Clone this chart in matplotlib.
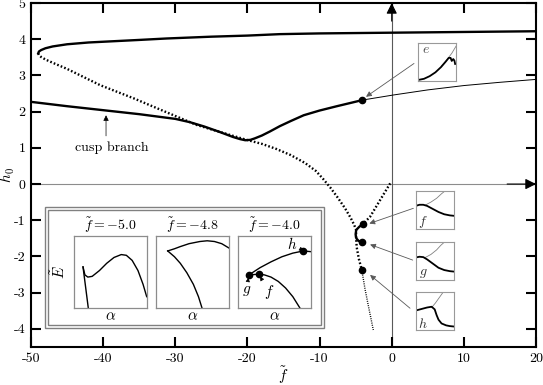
import numpy as np
import matplotlib
matplotlib.use('Agg')
import matplotlib.pyplot as plt
from matplotlib.patches import Rectangle

plt.rcParams['font.family'] = 'cmr10'
plt.rcParams['mathtext.fontset'] = 'cm'
plt.rcParams['axes.formatter.use_mathtext'] = True

# ---- bifurcation diagram data (f~, h0) ----
upper_f = [-49.0, -48.9, -48.6, -48.0, -47.0, -45.0, -42.0, -40.0, -35.0, -31.2, -25.0, -20.0,
           -15.5, -10.0, -5.0, 0.0, 10.0, 20.0]
upper_h = [3.61, 3.66, 3.70, 3.75, 3.80, 3.86, 3.91, 3.93, 3.98, 4.02, 4.07, 4.10,
           4.14, 4.16, 4.17, 4.18, 4.20, 4.22]

unstable_f = [-49.0, -48.9, -48.6, -48.0, -47.0, -45.0, -40.4, -35.8, -30.0, -27.0, -24.0, -20.1,
              -18.0, -16.0, -14.0, -12.0, -10.5, -9.5, -8.5, -7.5, -6.5, -5.7, -5.2, -4.93,
              -4.95, -4.85, -4.55, -4.14]
unstable_h = [3.61, 3.56, 3.51, 3.44, 3.35, 3.18, 2.73, 2.37, 1.88, 1.63, 1.45, 1.22,
              1.11, 0.97, 0.80, 0.58, 0.36, 0.14, -0.10, -0.37, -0.66, -0.93, -1.13, -1.27,
              -1.45, -1.75, -2.07, -2.38]

tail_f = [-4.14, -3.7, -3.2, -2.55]
tail_h = [-2.38, -2.9, -3.4, -4.03]

origin_f = [-0.21, -1.6, -2.99, -3.92]
origin_h = [0.02, -0.44, -0.9, -1.09]

cusp_seg_f = [-3.96, -4.5, -4.93, -5.0, -4.9, -4.6, -4.14]
cusp_seg_h = [-1.10, -1.18, -1.27, -1.40, -1.50, -1.57, -1.60]

cusp_f = [-50.0, -45.0, -40.0, -35.0, -30.0, -28.0, -26.0, -24.0, -22.0, -21.0, -20.3, -19.6,
          -19.0, -18.0, -16.9, -15.5, -14.0, -12.2, -10.0, -7.6, -5.5, -4.05]
cusp_h = [2.27, 2.15, 2.04, 1.93, 1.80, 1.71, 1.59, 1.45, 1.30, 1.24, 1.21, 1.22,
          1.26, 1.34, 1.45, 1.60, 1.74, 1.90, 2.03, 2.15, 2.25, 2.32]

thin_f = [-4.05, 0.25, 5.0, 10.0, 15.0, 20.0]
thin_h = [2.32, 2.46, 2.60, 2.72, 2.81, 2.89]

point_names = ['e', 'f', 'g', 'h']
point_f = [-4.05, -3.96, -4.14, -4.14]
point_h = [2.32, -1.10, -1.60, -2.38]

xticks = [-50, -40, -30, -20, -10, 0, 10, 20]
yticks = [-4, -3, -2, -1, 0, 1, 2, 3, 4, 5]

# ---- inset energy curves (alpha, E~), normalised ----
p1a_x = [0.124, 0.16, 0.197]
p1a_y = [0.57, 0.29, 0.0]
p1b_x = [0.124, 0.15, 0.19, 0.25, 0.35, 0.45, 0.55, 0.65, 0.72, 0.8, 0.88, 0.95, 1.0]
p1b_y = [0.57, 0.46, 0.43, 0.44, 0.52, 0.62, 0.70, 0.74, 0.73, 0.66, 0.52, 0.33, 0.16]
p2a_x = [0.157, 0.25, 0.33, 0.45, 0.6, 0.7, 0.8, 0.9, 1.0]
p2a_y = [0.79, 0.82, 0.85, 0.89, 0.92, 0.93, 0.92, 0.89, 0.83]
p2b_x = [0.157, 0.25, 0.33, 0.42, 0.51, 0.58, 0.63]
p2b_y = [0.79, 0.71, 0.62, 0.49, 0.33, 0.16, 0.0]
p3a_x = [0.146, 0.3, 0.45, 0.6, 0.75, 0.895, 1.0]
p3a_y = [0.46, 0.56, 0.64, 0.71, 0.76, 0.79, 0.78]
p3b_x = [0.146, 0.28, 0.36, 0.45, 0.55, 0.65, 0.75, 0.85]
p3b_y = [0.46, 0.47, 0.46, 0.43, 0.37, 0.28, 0.16, 0.0]
panel_titles = [r'$\tilde{f} = -5.0$', r'$\tilde{f} = -4.8$', r'$\tilde{f} = -4.0$']
p3_pts_x = [0.146, 0.28, 0.895]
p3_pts_y = [0.46, 0.47, 0.79]

# ---- small profile boxes ----
box_thick_x = {
    'e': [0, 0.15, 0.3, 0.45, 0.6, 0.72, 0.8, 0.85, 0.88, 0.92, 0.95, 0.97],
    'f': [0, 0.1, 0.2, 0.3, 0.45, 0.6, 0.75, 0.9, 1.0],
    'g': [0, 0.1, 0.2, 0.3, 0.45, 0.6, 0.75, 0.9, 1.0],
    'h': [0, 0.15, 0.3, 0.42, 0.5, 0.55, 0.6, 0.68, 0.8, 0.9, 1.0],
}
box_thick_y = {
    'e': [0.02, 0.05, 0.12, 0.22, 0.36, 0.5, 0.6, 0.6, 0.52, 0.57, 0.53, 0.44],
    'f': [0.6, 0.63, 0.63, 0.6, 0.52, 0.44, 0.38, 0.35, 0.34],
    'g': [0.6, 0.62, 0.61, 0.55, 0.44, 0.33, 0.27, 0.24, 0.23],
    'h': [0.52, 0.56, 0.6, 0.62, 0.55, 0.4, 0.28, 0.18, 0.13, 0.11, 0.1],
}
box_thin_x = {
    'e': [0.6, 0.75, 0.88, 1.0],
    'f': [0.25, 0.4, 0.55, 0.68, 0.78],
    'g': [0.25, 0.4, 0.55, 0.66, 0.75],
    'h': [0.42, 0.52, 0.62, 0.72],
}
box_thin_y = {
    'e': [0.38, 0.55, 0.72, 0.92],
    'f': [0.62, 0.7, 0.8, 0.92, 1.0],
    'g': [0.6, 0.68, 0.8, 0.92, 1.0],
    'h': [0.6, 0.72, 0.86, 1.0],
}

W, H = 543, 385
fig = plt.figure(figsize=(W / 100, H / 100), dpi=100)
ax = fig.add_axes([31 / W, 1 - 347 / H, 505 / W, 344 / H])
ax.set_zorder(0)

ax.axhline(0, color='0.55', lw=0.8, zorder=1)
ax.axvline(0, color='0.35', lw=0.8, zorder=1)
ax.annotate('', xy=(20, 0), xytext=(16, 0),
            arrowprops=dict(arrowstyle='-|>', color='black', lw=0.8, mutation_scale=16, shrinkA=0, shrinkB=0))
ax.annotate('', xy=(0, 5), xytext=(0, 4.5),
            arrowprops=dict(arrowstyle='-|>', color='black', lw=0.8, mutation_scale=16, shrinkA=0, shrinkB=0))

dots = (0, (0.7, 0.9))
ax.plot(upper_f, upper_h, color='black', lw=1.7)
ax.plot(unstable_f, unstable_h, color='black', lw=1.7, ls=dots)
ax.plot(tail_f, tail_h, color='black', lw=1.0, ls=dots)
ax.plot(origin_f, origin_h, color='black', lw=1.7, ls=dots)
ax.plot(cusp_seg_f, cusp_seg_h, color='black', lw=1.7)
ax.plot(cusp_f, cusp_h, color='black', lw=1.7)
ax.plot(thin_f, thin_h, color='black', lw=0.7)
ax.plot(point_f, point_h, 'o', color='black', ms=4.5, zorder=5)

ax.text(-38.8, 1.0, 'cusp branch', ha='center', va='center', fontsize=10)
ax.annotate('', xy=(-39.6, 1.9), xytext=(-39.6, 1.33),
            arrowprops=dict(arrowstyle='-|>', color='black', lw=0.5, mutation_scale=8, shrinkA=0, shrinkB=0))

ax.set_xlim(-50, 20)
ax.set_ylim(-4.5, 5)
ax.set_xticks(xticks)
ax.set_xticklabels([str(v) for v in xticks])
ax.set_yticks(yticks)
ax.set_yticklabels([str(v) for v in yticks])
ax.tick_params(direction='in', length=7, width=1.5, labelsize=10, top=True, right=True, pad=4)
for s in ax.spines.values():
    s.set_linewidth(1.5)
ax.set_xlabel(r'$\tilde{f}$', fontsize=11)
ax.xaxis.set_label_coords(0.5, -0.05)
ax.set_ylabel(r'$\tilde{h}_0$', fontsize=11)
ax.yaxis.set_label_coords(-0.027, 0.5)

# arrows from profile boxes
arrow_tails = {'e': (3.09, 3.33), 'f': (3.0, -0.67), 'g': (2.91, -2.10), 'h': (2.54, -3.43)}
arrow_heads = {'e': (-3.56, 2.41), 'f': (-3.1, -1.09), 'g': (-3.0, -1.67), 'h': (-3.0, -2.51)}
for k in point_names:
    ax.annotate('', xy=arrow_heads[k], xytext=arrow_tails[k],
                arrowprops=dict(arrowstyle='-|>', color='0.35', lw=0.6, mutation_scale=8, shrinkA=0, shrinkB=0))

# big inset frame
fig.add_artist(Rectangle((45 / W, 1 - 328.3 / H), 279.3 / W, 121 / H, transform=fig.transFigure,
                         facecolor='white', edgecolor='0.5', lw=1.0, zorder=0.5))
fig.add_artist(Rectangle((48 / W, 1 - 325.3 / H), 273.3 / W, 115 / H, transform=fig.transFigure,
                         facecolor='white', edgecolor='0.5', lw=1.0, zorder=0.5))

panel_x0 = [74, 156.3, 238.3]
panels = []
for i, x0 in enumerate(panel_x0):
    pa = fig.add_axes([x0 / W, 1 - 308.3 / H, 72.7 / W, 72.6 / H])
    pa.set_zorder(1)
    pa.set_xlim(0, 1)
    pa.set_ylim(0, 1)
    pa.set_xticks([])
    pa.set_yticks([])
    for s in pa.spines.values():
        s.set_color('0.55')
        s.set_linewidth(0.9)
    pa.set_title(panel_titles[i], fontsize=10, pad=4)
    pa.set_xlabel(r'$\alpha$', fontsize=11, labelpad=1)
    panels.append(pa)

panels[0].set_ylabel(r'$\tilde{E}$', fontsize=11, labelpad=4)
panels[0].plot(p1a_x, p1a_y, color='black', lw=1.0)
panels[0].plot(p1b_x, p1b_y, color='black', lw=1.0)
panels[1].plot(p2a_x, p2a_y, color='black', lw=1.0)
panels[1].plot(p2b_x, p2b_y, color='black', lw=1.0)
panels[2].plot(p3a_x, p3a_y, color='black', lw=1.0)
panels[2].plot(p3b_x, p3b_y, color='black', lw=1.0)
panels[2].plot(p3_pts_x, p3_pts_y, 'o', color='black', ms=4.5, clip_on=False)
small_arrow = dict(arrowstyle='-|>', color='black', lw=0.5, mutation_scale=6, shrinkA=1, shrinkB=2)
panels[2].annotate(r'$g$', xy=(p3_pts_x[0], p3_pts_y[0]), xytext=(0.11, 0.24), fontsize=11,
                   ha='center', va='center', arrowprops=small_arrow)
panels[2].annotate(r'$f$', xy=(p3_pts_x[1], p3_pts_y[1]), xytext=(0.43, 0.22), fontsize=11,
                   ha='center', va='center', arrowprops=small_arrow)
panels[2].annotate(r'$h$', xy=(p3_pts_x[2], p3_pts_y[2]), xytext=(0.74, 0.89), fontsize=11,
                   ha='center', va='center', arrowprops=small_arrow)

# small profile boxes
box_pos = {'e': (418.3, 80.7), 'f': (415.7, 228.7), 'g': (415.7, 280.3), 'h': (415.7, 330.3)}
for k in point_names:
    bx, by = box_pos[k]
    sa = fig.add_axes([bx / W, 1 - by / H, 38 / W, 38 / H])
    sa.set_zorder(1)
    sa.set_xlim(0, 1)
    sa.set_ylim(0, 1)
    sa.set_xticks([])
    sa.set_yticks([])
    for s in sa.spines.values():
        s.set_color('0.6')
        s.set_linewidth(0.8)
    sa.plot(box_thin_x[k], box_thin_y[k], color='0.5', lw=0.6)
    sa.plot(box_thick_x[k], box_thick_y[k], color='black', lw=1.3)
    if k == 'e':
        sa.text(0.2, 0.8, r'$e$', fontsize=10, ha='center', va='center', color='0.3')
    else:
        sa.text(0.2, 0.17, r'$' + k + '$', fontsize=10, ha='center', va='center', color='0.2')

fig.savefig('out.png', dpi=100)
